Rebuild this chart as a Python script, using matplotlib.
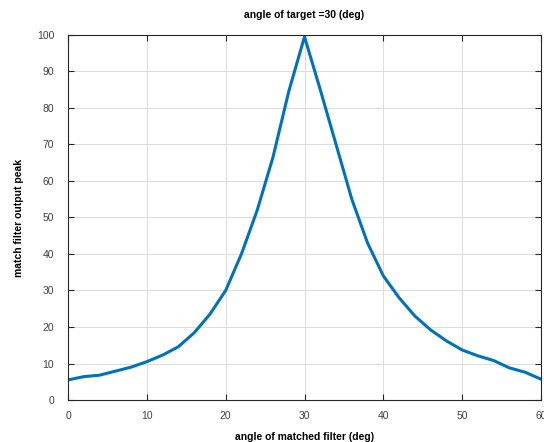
#!/usr/bin/python

from matplotlib import pyplot as plt
import numpy as np

angles = np.arange(0, 61, 2)
peak = [5.5, 6.4, 6.8, 7.9, 9.0, 10.5, 12.3, 14.6, 18.4, 23.5, 30.0,
        40.0, 52.0, 66.5, 84.5, 99.5, 85.0, 70.0, 55.0, 43.0, 34.0,
        28.0, 23.0, 19.2, 16.2, 13.7, 12.1, 10.8, 8.8, 7.6, 5.7]


def main():
  plt.rcParams['font.family'] = ['Liberation Sans', 'DejaVu Sans']
  fig = plt.figure(figsize=(5.44, 4.42), dpi=100)
  ax = fig.add_axes([0.125, 0.095, 0.8695, 0.826])
  ax.plot(angles, peak, color='#0072BD', linewidth=2.2)
  ax.set_xlim(0, 60)
  ax.set_ylim(0, 100)
  ax.set_xticks(np.arange(0, 61, 10))
  ax.set_yticks(np.arange(0, 101, 10))
  ax.grid(True, color='#dcdcdc', linewidth=0.7)
  ax.tick_params(direction='in', top=True, right=True, length=4,
                 labelsize=7.5, labelcolor='#404040', color='#262626', width=0.8)
  ax.tick_params(axis='x', pad=8)
  ax.tick_params(axis='y', pad=10)
  for s in ax.spines.values():
    s.set_color('#262626')
    s.set_linewidth(0.8)
  ax.set_title('angle of target =30 (deg)', fontsize=7.5, fontweight='bold', pad=12)
  ax.set_xlabel('angle of matched filter (deg)', fontsize=7.5, fontweight='bold', labelpad=8)
  ax.set_ylabel('match filter output peak', fontsize=7.5, fontweight='bold', labelpad=9)
  fig.savefig('out.png', dpi=100)


if __name__ == '__main__':
  main()
